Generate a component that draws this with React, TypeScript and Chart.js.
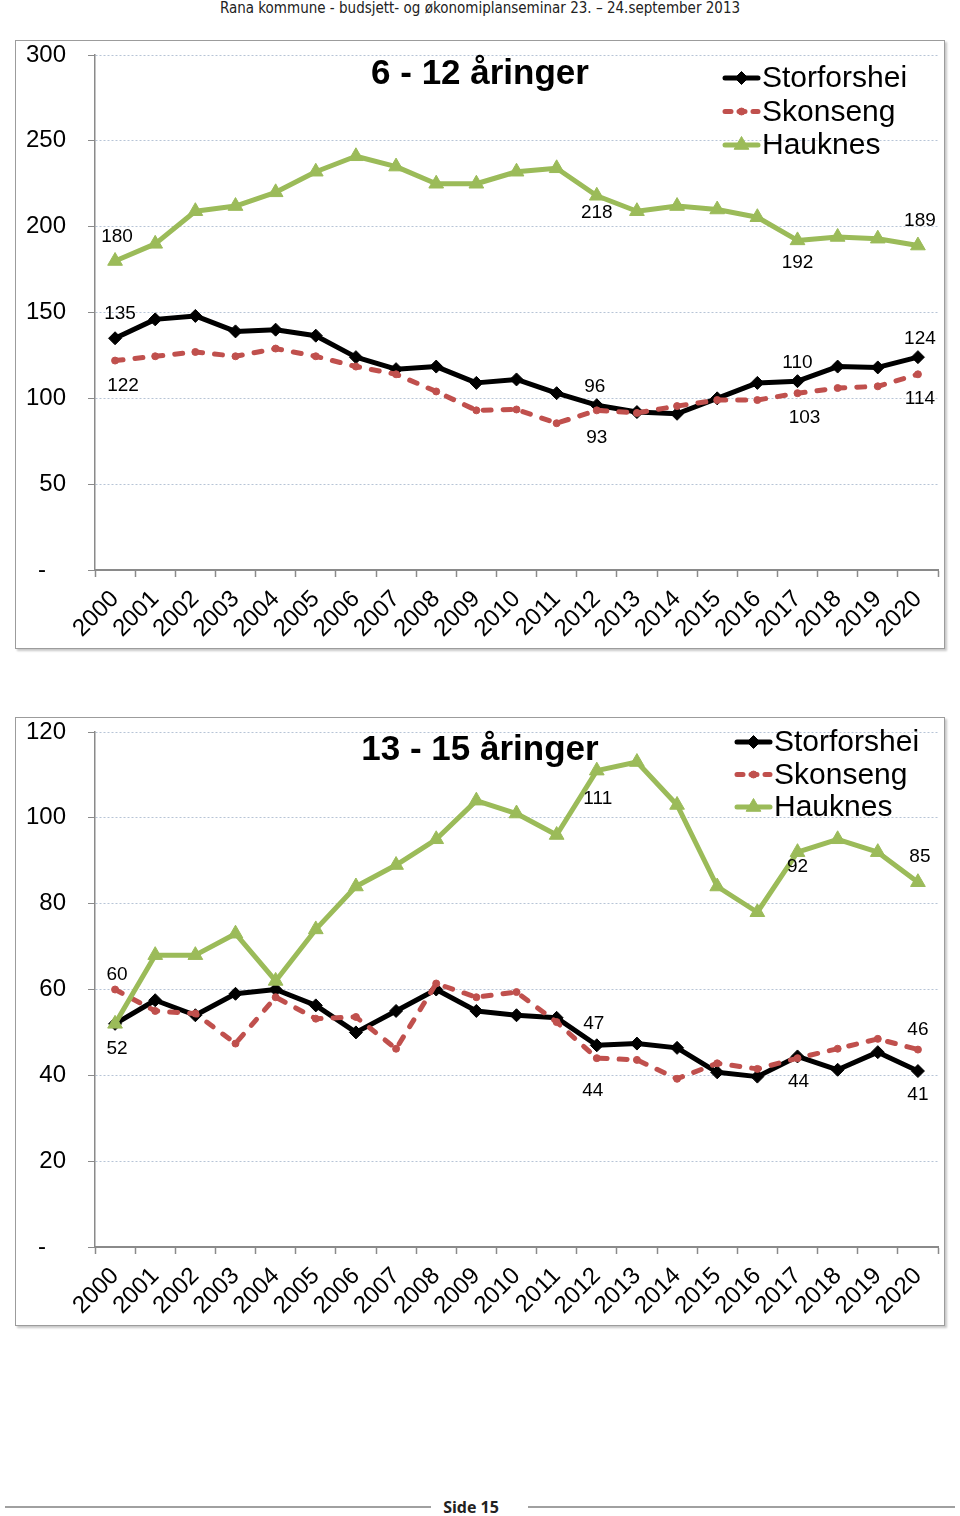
import React, { useEffect, useRef } from 'react';
import { Chart, registerables } from 'chart.js';

Chart.register(...registerables);

// ---------- data ----------
const years = ['2000', '2001', '2002', '2003', '2004', '2005', '2006', '2007', '2008', '2009', '2010',
  '2011', '2012', '2013', '2014', '2015', '2016', '2017', '2018', '2019', '2020'];

const seriesNames = ['Storforshei', 'Skonseng', 'Hauknes'];

// 6 - 12 åringer
const storforshei6to12 = [135, 146, 148, 139, 140, 136.5, 124, 117, 118.5, 109, 111, 103, 96, 92, 91, 100, 109, 110, 118.5, 118, 124];
const skonseng6to12 = [122, 124.5, 127, 124.5, 129, 124.5, 118.5, 114, 104, 93, 93.5, 85.5, 93, 91.5, 95.5, 99, 99, 103, 106, 107, 114];
const hauknes6to12 = [180, 190, 209, 212, 220, 232, 241, 235, 225, 225, 232, 234, 218, 209, 212, 210, 205.5, 192, 194, 193, 189];

// 13 - 15 åringer
const storforshei13to15 = [52, 57.5, 54, 59, 60, 56.3, 50, 55, 60, 55, 54, 53.4, 47, 47.4, 46.4, 40.7, 39.7, 44.4, 41.3, 45.4, 41];
const skonseng13to15 = [60, 55, 54.4, 47.4, 58.2, 53.2, 53.6, 46.2, 61.4, 58.2, 59.4, 52.4, 44, 43.6, 39.2, 42.8, 41.5, 44, 46.2, 48.5, 46];
const hauknes13to15 = [52, 68, 68, 73, 62, 74, 84, 89, 95, 104, 101, 96, 111, 113, 103, 84, 78, 92, 95, 92, 85];

const title6to12 = '6 - 12 åringer';
const title13to15 = '13 - 15 åringer';
const yMax6to12 = 300;
const yStep6to12 = 50;
const yMax13to15 = 120;
const yStep13to15 = 20;

// ---------- styles ----------
const FONT = '"Liberation Sans", Arial, sans-serif';
const colors = ['#000000', '#c0504d', '#9bbb59'];
const pointStyles = ['rectRot', 'circle', 'triangle'];
const pointRadii = [6.5, 3.5, 8.5];

// labelled points: dataset index, point index, offsets
const labels6to12 = [
  { ds: 2, idx: 0, dx: 2, dy: -24 },
  { ds: 0, idx: 0, dx: 5, dy: -24 },
  { ds: 1, idx: 0, dx: 8, dy: 25 },
  { ds: 2, idx: 12, dx: 0, dy: 17 },
  { ds: 0, idx: 12, dx: -2, dy: -18 },
  { ds: 1, idx: 12, dx: 0, dy: 27 },
  { ds: 2, idx: 17, dx: 0, dy: 22 },
  { ds: 0, idx: 17, dx: 0, dy: -18 },
  { ds: 1, idx: 17, dx: 7, dy: 25 },
  { ds: 2, idx: 20, dx: 2, dy: -25 },
  { ds: 0, idx: 20, dx: 2, dy: -18 },
  { ds: 1, idx: 20, dx: 2, dy: 24 },
];
const labels13to15 = [
  { ds: 1, idx: 0, dx: 2, dy: -15 },
  { ds: 0, idx: 0, dx: 2, dy: 25 },
  { ds: 2, idx: 12, dx: 1, dy: 28 },
  { ds: 0, idx: 12, dx: -3, dy: -22 },
  { ds: 1, idx: 12, dx: -4, dy: 33 },
  { ds: 2, idx: 17, dx: 0, dy: 15 },
  { ds: 0, idx: 17, dx: 1, dy: 25 },
  { ds: 2, idx: 20, dx: 2, dy: -25 },
  { ds: 1, idx: 20, dx: 0, dy: -20 },
  { ds: 0, idx: 20, dx: 0, dy: 24 },
];

function drawMarker(ctx: CanvasRenderingContext2D, style: string, x: number, y: number, r: number, color: string) {
  ctx.save();
  ctx.fillStyle = color;
  ctx.strokeStyle = color;
  ctx.lineWidth = 1;
  ctx.beginPath();
  if (style === 'rectRot') {
    ctx.moveTo(x, y - r);
    ctx.lineTo(x + r, y);
    ctx.lineTo(x, y + r);
    ctx.lineTo(x - r, y);
    ctx.closePath();
  } else if (style === 'triangle') {
    for (let i = 0; i < 3; i++) {
      const a = (i * 2 * Math.PI) / 3;
      const px = x + Math.sin(a) * r;
      const py = y - Math.cos(a) * r;
      if (i === 0) ctx.moveTo(px, py);
      else ctx.lineTo(px, py);
    }
    ctx.closePath();
  } else {
    ctx.arc(x, y, r, 0, Math.PI * 2);
  }
  ctx.fill();
  ctx.stroke();
  ctx.restore();
}

const overlayPlugin = {
  id: 'overlay',
  afterDatasetsDraw(chart: any, _args: any, opts: any) {
    const ctx: CanvasRenderingContext2D = chart.ctx;
    ctx.save();
    // value labels
    ctx.font = `19px ${FONT}`;
    ctx.fillStyle = '#000';
    ctx.textAlign = 'center';
    ctx.textBaseline = 'middle';
    for (const l of opts.labels) {
      const meta = chart.getDatasetMeta(l.ds);
      const pt = meta.data[l.idx];
      const v = chart.data.datasets[l.ds].data[l.idx];
      ctx.fillText(String(Math.round(v)), pt.x + l.dx, pt.y + l.dy);
    }
    // title
    ctx.font = `bold 35px ${FONT}`;
    ctx.fillText(opts.title, opts.titleX, opts.titleY);
    // legend
    ctx.font = `30px ${FONT}`;
    ctx.textAlign = 'left';
    chart.data.datasets.forEach((ds: any, i: number) => {
      const y = opts.legendY + i * opts.legendGap;
      const x0 = opts.legendX;
      const x1 = x0 + 37;
      ctx.save();
      ctx.strokeStyle = ds.borderColor;
      ctx.lineWidth = 5;
      ctx.lineCap = 'round';
      if (ds.borderDash && ds.borderDash.length) ctx.setLineDash([6, 8]);
      ctx.beginPath();
      ctx.moveTo(x0 + 2, y);
      ctx.lineTo(x1 - 2, y);
      ctx.stroke();
      ctx.restore();
      drawMarker(ctx, pointStyles[i], (x0 + x1) / 2, y, pointRadii[i], ds.borderColor);
      ctx.fillStyle = '#000';
      ctx.fillText(ds.label, x1 + 2, y + 1);
    });
    ctx.restore();
  },
};

function makeConfig(series: number[][], yMax: number, yStep: number, overlay: any): any {
  return {
    type: 'line',
    data: {
      labels: years,
      datasets: series.map((d, i) => ({
        label: seriesNames[i],
        data: d,
        borderColor: colors[i],
        backgroundColor: colors[i],
        borderWidth: 5,
        borderDash: i === 1 ? [8, 12] : [],
        borderCapStyle: i === 1 ? 'round' : 'butt',
        borderJoinStyle: 'round',
        pointStyle: pointStyles[i],
        pointRadius: pointRadii[i],
        pointBackgroundColor: colors[i],
        pointBorderColor: colors[i],
        pointBorderWidth: 1,
        tension: 0,
        fill: false,
        order: 2 - i,
      })),
    },
    options: {
      responsive: false,
      animation: false,
      devicePixelRatio: 1,
      layout: { autoPadding: false, padding: { top: 14, right: 6, left: 0, bottom: 0 } },
      plugins: {
        legend: { display: false },
        title: { display: false },
        tooltip: { enabled: false },
        overlay,
      },
      scales: {
        x: {
          offset: true,
          afterFit: (s: any) => {
            s.height = 78;
            s.paddingLeft = 0;
            s.paddingRight = 0;
          },
          grid: {
            offset: true,
            drawOnChartArea: false,
            drawTicks: true,
            tickLength: 7,
            tickColor: '#8a8a8a',
            tickWidth: 1.5,
          },
          border: { display: true, color: '#8a8a8a', width: 2 },
          ticks: {
            autoSkip: false,
            maxRotation: 45,
            minRotation: 45,
            padding: 8,
            color: '#000',
            font: { family: FONT, size: 24 },
          },
        },
        y: {
          min: 0,
          max: yMax,
          afterFit: (s: any) => {
            s.width = 79;
            s.paddingTop = 0;
            s.paddingBottom = 0;
          },
          grid: {
            color: '#b7c4d6',
            lineWidth: 1,
            tickLength: 7,
            tickColor: '#8a8a8a',
            tickBorderDash: [],
          },
          border: { display: true, color: '#8a8a8a', width: 1.5, dash: [2, 2] },
          ticks: {
            stepSize: yStep,
            padding: 22,
            color: '#000',
            font: { family: FONT, size: 24 },
            callback: (v: number) => (v === 0 ? '-   ' : String(v)),
          },
        },
      },
    },
    plugins: [overlayPlugin],
  };
}

function ChartBox(props: { top: number; config: any }) {
  const ref = useRef<HTMLCanvasElement | null>(null);
  useEffect(() => {
    if (!ref.current) return;
    const chart = new Chart(ref.current, props.config);
    return () => chart.destroy();
  }, []);
  return (
    <div
      style={{
        position: 'absolute',
        left: 15,
        top: props.top,
        width: 928,
        height: 607,
        border: '1px solid #9c9c9c',
        boxShadow: '2px 2px 2px #c8c8c8',
        background: '#fff',
      }}
    >
      <canvas ref={ref} width={928} height={607} style={{ display: 'block' }} />
    </div>
  );
}

export default function App() {
  const config1 = makeConfig([storforshei6to12, skonseng6to12, hauknes6to12], yMax6to12, yStep6to12, {
    labels: labels6to12,
    title: title6to12,
    titleX: 464,
    titleY: 33,
    legendX: 707,
    legendY: 37,
    legendGap: 33.5,
  });
  const config2 = makeConfig([storforshei13to15, skonseng13to15, hauknes13to15], yMax13to15, yStep13to15, {
    labels: labels13to15,
    title: title13to15,
    titleX: 464,
    titleY: 32,
    legendX: 719,
    legendY: 24,
    legendGap: 32.5,
  });
  return (
    <div style={{ position: 'absolute', left: 0, top: 0, width: 960, height: 1516, background: '#fff', overflow: 'hidden' }}>
      <div
        style={{
          position: 'absolute',
          left: 0,
          top: 0,
          width: 960,
          textAlign: 'center',
          fontFamily: '"Liberation Sans Narrow", "DejaVu Sans Condensed", "Liberation Sans", sans-serif',
          fontStretch: 'condensed',
          fontSize: 15,
          lineHeight: '17px',
          color: '#222',
        }}
      >
        Rana kommune - budsjett- og økonomiplanseminar 23. – 24.september 2013
      </div>
      <ChartBox top={40} config={config1} />
      <ChartBox top={717} config={config2} />
      <div style={{ position: 'absolute', left: 5, top: 1506, width: 426, height: 2, background: '#a0a0a0' }} />
      <div style={{ position: 'absolute', left: 528, top: 1506, width: 427, height: 2, background: '#a0a0a0' }} />
      <div
        style={{
          position: 'absolute',
          left: 421,
          top: 1497,
          width: 100,
          textAlign: 'center',
          fontFamily: '"Open Sans", "Liberation Sans", sans-serif',
          fontWeight: 'bold',
          fontSize: 16,
          lineHeight: '20px',
          color: '#222',
        }}
      >
        Side 15
      </div>
    </div>
  );
}
